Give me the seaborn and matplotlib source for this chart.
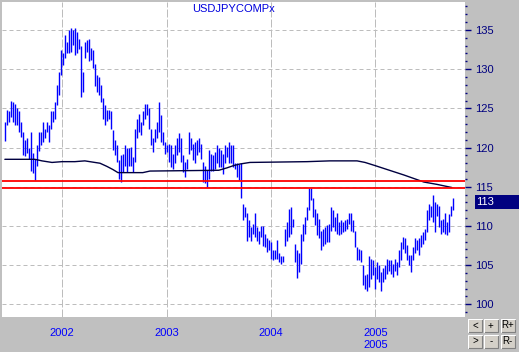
import pandas as pd
import matplotlib
matplotlib.use('Agg')
import matplotlib.pyplot as plt
import matplotlib.dates as mdates
import matplotlib.transforms as mtransforms
from matplotlib.patches import Rectangle
from matplotlib.lines import Line2D
from matplotlib.ticker import MultipleLocator
import seaborn as sns

# Data (weekly high / low)
title = "USDJPYCOMPx"
first_week = "2001-06-15"

highs = [123.3, 124.8, 124.7, 126.0, 125.8, 125.6, 125.0, 124.6, 123.3, 122.0,
         121.0, 121.2, 119.9, 122.0, 119.3, 118.6, 120.3, 122.0, 122.0, 123.3,
         122.4, 123.3, 122.9, 124.6, 124.6, 125.8, 128.0, 129.7, 132.4, 132.0,
         134.4, 133.5, 135.0, 135.2, 135.0, 135.2, 134.8, 133.9, 133.0,
         129.7, 133.5, 133.7, 133.9, 132.7, 132.4, 130.7, 129.2, 129.0, 128.0,
         126.3, 125.4, 124.8, 124.8, 124.6, 122.2, 120.9, 120.3, 118.4, 119.0,
         119.2, 120.3, 119.9, 119.9, 120.1, 118.8, 122.4, 123.7, 124.3, 123.3,
         124.6, 125.6, 125.6, 125.0, 122.4, 121.2, 122.4, 123.3,
         125.8, 124.1, 122.0, 120.7, 120.3, 120.5, 120.3, 119.2, 120.3, 121.2,
         121.8, 121.2, 119.0, 118.2, 118.6, 122.0, 121.2, 120.5, 120.7, 120.9,
         121.2, 120.5, 118.2, 117.7, 117.1, 119.7, 119.2, 119.0, 119.4, 120.3,
         119.9, 119.7, 119.2, 120.3, 120.1, 120.7, 120.3, 120.3,
         118.0, 118.0, 117.9, 118.0, 112.8, 112.4, 111.6, 110.7, 109.8, 110.3,
         111.6, 109.8, 109.4, 110.0, 110.0, 109.0, 108.4, 108.2, 107.9, 106.9,
         106.9, 108.2, 106.5, 106.1, 106.1, 109.6, 110.5, 112.2, 112.4, 110.9,
         107.7, 106.9, 106.5, 109.0, 110.3, 111.1, 112.4, 114.8,
         114.8, 113.5, 112.2, 111.6, 110.9, 109.4, 109.6, 109.8, 110.1, 110.3,
         112.4, 112.0, 111.1, 111.6, 110.5, 110.7, 110.5, 110.7, 110.9, 111.6,
         111.7, 110.7, 109.4, 107.3, 107.1, 106.9, 105.0, 103.7, 103.9, 106.2,
         105.8, 105.6, 104.7, 105.4, 105.0, 104.1, 104.6, 105.0,
         105.8, 105.6, 105.6, 105.2, 105.8, 105.4, 106.9, 108.0, 108.6, 108.4,
         107.6, 106.3, 106.3, 107.3, 108.4, 108.2, 108.4, 108.8, 109.2, 109.6,
         112.0, 112.8, 112.6, 113.9, 113.0, 112.8, 112.6, 110.7, 110.9, 111.7,
         110.5, 111.5, 112.6, 113.5]

lows = [120.8, 122.9, 123.3, 123.9, 123.3, 122.9, 122.9, 122.0, 121.4, 119.1,
        118.9, 119.3, 118.6, 117.0, 116.8, 115.9, 117.7, 119.5, 120.3, 120.7,
        121.2, 122.0, 120.7, 122.4, 123.3, 123.7, 125.4, 126.7, 129.3, 130.5,
        131.4, 132.0, 132.0, 132.2, 133.1, 131.8, 132.0, 132.6, 126.5,
        127.1, 131.4, 132.2, 131.0, 131.2, 130.1, 127.8, 127.1, 126.7, 125.8,
        123.7, 122.9, 123.4, 123.6, 122.4, 119.7, 119.0, 118.2, 116.0, 115.6,
        116.9, 117.7, 116.9, 117.7, 117.7, 116.9, 118.2, 121.2, 122.0, 121.6,
        122.9, 123.7, 124.1, 122.4, 120.3, 119.4, 120.7, 121.2,
        122.0, 120.7, 120.3, 119.2, 119.4, 118.2, 117.5, 117.3, 118.0, 119.0,
        119.4, 118.2, 116.9, 116.2, 117.3, 119.2, 119.7, 118.4, 118.0, 119.0,
        119.4, 118.6, 115.6, 115.5, 115.0, 116.0, 117.0, 117.0, 117.3, 118.0,
        117.5, 117.5, 116.6, 118.0, 118.8, 118.0, 118.0, 117.5,
        117.3, 116.2, 115.8, 113.5, 110.7, 111.1, 108.1, 108.6, 108.1, 109.0,
        108.6, 108.1, 107.7, 108.6, 107.5, 107.3, 106.7, 106.9, 105.8, 105.6,
        105.8, 105.8, 105.4, 105.2, 105.4, 107.5, 108.1, 108.6, 109.0, 109.8,
        105.4, 103.3, 104.1, 105.2, 108.1, 109.0, 110.7, 112.0,
        113.3, 111.1, 110.1, 108.8, 108.5, 106.9, 107.5, 107.7, 108.0, 108.0,
        109.4, 109.8, 109.4, 109.0, 108.8, 109.0, 109.2, 109.4, 109.6, 110.3,
        109.4, 109.2, 107.3, 105.6, 105.6, 105.4, 102.4, 102.0, 101.7, 102.2,
        103.2, 103.7, 102.0, 103.2, 102.8, 101.7, 102.8, 103.2,
        103.9, 104.3, 103.9, 103.5, 104.3, 103.7, 104.7, 105.6, 107.1, 106.5,
        105.6, 105.0, 104.1, 105.6, 106.5, 106.9, 106.3, 107.3, 107.7, 108.2,
        109.2, 110.7, 111.1, 110.5, 109.2, 111.3, 109.8, 109.0, 109.2, 109.0,
        108.8, 109.2, 111.3, 112.0]

# moving average line
ma_dates = ["2001-06-14", "2001-09-27", "2001-10-22", "2001-11-26", "2001-12-31",
            "2002-02-14", "2002-03-21", "2002-04-25", "2002-05-13", "2002-06-06",
            "2002-06-27", "2002-07-15", "2002-10-10", "2002-11-04", "2003-07-03",
            "2003-07-31", "2003-08-24", "2003-09-15", "2003-10-20", "2004-05-07",
            "2004-07-26", "2004-10-29", "2004-11-26", "2004-12-31", "2005-02-11",
            "2005-04-11", "2005-06-20", "2005-08-05", "2005-09-26"]
ma_values = [118.5, 118.5, 118.3, 118.1, 118.2, 118.2, 118.3, 118.1, 118.0, 117.6,
             117.2, 116.8, 116.8, 117.0, 117.1, 117.4, 117.7, 117.9, 118.1, 118.2,
             118.3, 118.3, 118.1, 117.7, 117.2, 116.5, 115.6, 115.3, 114.9]

level_lines = [115.73, 114.8]
last_label = "113"
last_value = 113.05
buttons = [["<", "+", "R+"], [">", "-", "R-"]]

weeks = pd.date_range(first_week, periods=len(highs), freq="7D")
ma = pd.DataFrame({"date": pd.to_datetime(ma_dates), "value": ma_values})

sns.set_style("white")
plt.rcParams['font.family'] = ['Liberation Sans', 'DejaVu Sans']

W, H = 519, 352
fig = plt.figure(figsize=(W / 100, H / 100), dpi=100, facecolor="#C0C0C0")
ax = fig.add_axes([2 / W, 35 / H, 463 / W, 315 / H])
ax.set_facecolor("white")

navy = "#000080"
blue = "#0000FF"

# weekly high-low bars
ax.vlines(weeks, lows, highs, color="#0000FF", lw=1.0)
sns.lineplot(data=ma, x="date", y="value", color="#000040", lw=1.0, ax=ax)
for lvl in level_lines:
    ax.axhline(lvl, color="#FF0000", lw=1.3, zorder=3)

ax.set_xlim(pd.Timestamp("2001-06-04"), pd.Timestamp("2005-11-11"))
ax.set_ylim(98.38, 138.57)
ax.set_xlabel("")
ax.set_ylabel("")

for s in ax.spines.values():
    s.set_visible(False)

# y axis on the right
ax.yaxis.tick_right()
ax.yaxis.set_major_locator(MultipleLocator(5))
ax.yaxis.set_minor_locator(MultipleLocator(1))
ax.tick_params(axis="y", which="major", length=4.1, width=1, color=navy,
               labelcolor=navy, labelsize=8, pad=3)
ax.tick_params(axis="y", which="minor", length=1.7, width=1, color=navy)

# x axis: years + quarters
ax.xaxis.set_major_locator(mdates.YearLocator())
ax.xaxis.set_major_formatter(mdates.DateFormatter("%Y"))
ax.xaxis.set_minor_locator(mdates.MonthLocator(bymonth=[4, 7, 10]))
ax.tick_params(axis="x", which="major", length=5, width=1, color=blue,
               labelcolor=blue, labelsize=8, pad=3.2)
ax.tick_params(axis="x", which="minor", length=2.5, width=1, color=blue)

ax.set_axisbelow(True)
ax.grid(True, axis="y", which="major", color="#BDBDBD", lw=0.72, ls=(0, (4, 3)))
ax.grid(True, axis="x", which="major", color="#BDBDBD", lw=0.72, ls=(0, (8, 2)))

ax.text(0.5, 0.978, title, transform=ax.transAxes, ha="center", va="center",
        color="#0000DD", fontsize=8)

blend = mtransforms.blended_transform_factory(ax.transData, ax.transAxes)
ax.text(mdates.date2num(pd.Timestamp("2005-01-01")), -0.089, "2005", transform=blend,
        ha="center", va="center", color=blue, fontsize=8)

# last value box on the right axis
blend_y = mtransforms.blended_transform_factory(ax.transAxes, ax.transData)
ax.add_patch(Rectangle((1.0216, last_value - 0.9), 0.2, 1.8, transform=blend_y,
                       facecolor=navy, edgecolor="none", clip_on=False))
ax.text(1.0238, last_value, last_label, transform=blend_y, ha="left", va="center",
        color="white", fontsize=8, clip_on=False)

# scroll / zoom buttons
cols = [(468, 482), (484, 497.5), (500.5, 515)]
rows = [(319, 332), (335, 347.5)]
for r, (y0, y1) in enumerate(rows):
    for c, (x0, x1) in enumerate(cols):
        fig.add_artist(Rectangle((x0 / W, 1 - y1 / H), (x1 - x0) / W, (y1 - y0) / H,
                                 transform=fig.transFigure, facecolor="#D4D0C8",
                                 edgecolor="#808080", lw=0.8))
        fig.add_artist(Line2D([x0 / W, x0 / W, x1 / W], [1 - y1 / H, 1 - y0 / H, 1 - y0 / H],
                              transform=fig.transFigure, color="white", lw=0.8))
        fig.text((x0 + x1) / 2 / W, 1 - (y0 + y1) / 2 / H, buttons[r][c],
                 ha="center", va="center", fontsize=7, color="black")

fig.savefig("out.png", dpi=100, facecolor=fig.get_facecolor())
plt.close(fig)
